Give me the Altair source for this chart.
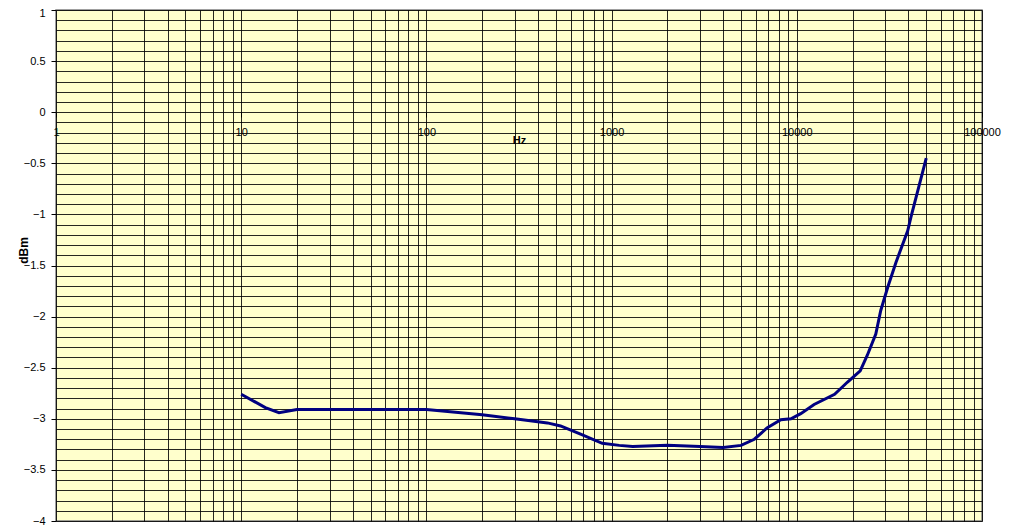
import altair as alt
import pandas as pd

freq_hz = [10, 13.5, 16, 20, 30, 50, 100, 200, 300, 450, 530, 680, 890, 1100,
           1300, 2000, 3000, 4000, 5000, 5900, 6900, 8200, 9300, 10500, 12400,
           16000, 18800, 22000, 24000, 26700, 28400, 31000, 34300, 39700,
           41300, 50000]
level_dbm = [-2.76, -2.89, -2.94, -2.91, -2.91, -2.91, -2.91, -2.96, -3.00,
             -3.04, -3.07, -3.15, -3.24, -3.26, -3.27, -3.26, -3.27, -3.28,
             -3.26, -3.20, -3.09, -3.01, -3.00, -2.95, -2.86, -2.76, -2.64,
             -2.53, -2.38, -2.17, -1.94, -1.71, -1.47, -1.16, -1.03, -0.45]

# Axis ticks / gridlines
x_decades = [1, 10, 100, 1000, 10000, 100000]
x_grid = [m * 10 ** e for e in range(5) for m in range(1, 10)] + [100000]
y_grid = [round(-4 + 0.1 * i, 1) for i in range(51)]

df = pd.DataFrame({"Hz": freq_hz, "dBm": level_dbm})

FONT = "Liberation Sans"
xscale = alt.Scale(type="log", domain=[1, 100000], nice=False)
yscale = alt.Scale(domain=[-4, 1], nice=False, zero=False)
major_test = "abs(datum.value * 2 - round(datum.value * 2)) < 0.001"

grid_layer = alt.Chart(df).mark_line(opacity=0).encode(
    x=alt.X("Hz:Q", scale=xscale,
            axis=alt.Axis(orient="bottom", values=x_grid, grid=True,
                          gridColor="black", gridWidth=1, gridOpacity=0.85,
                          labels=False, ticks=False, domain=False, title=None)),
    y=alt.Y("dBm:Q", scale=yscale,
            axis=alt.Axis(orient="left", values=y_grid, grid=True,
                          gridColor="black", gridWidth=1, gridOpacity=0.85,
                          labelExpr=f"{major_test} ? format(datum.value, '~g') : ''",
                          labelOffset={"condition": {"test": "datum.value > 0.95", "value": 3}, "value": 0},
                          tickOpacity={"condition": {"test": major_test, "value": 1}, "value": 0},
                          tickSize=5, tickColor="black", labelPadding=6,
                          labelFont=FONT, labelFontSize=11, labelColor="black",
                          domain=False, title="dBm", titleFont=FONT,
                          titleFontSize=12, titleFontWeight="bold",
                          titleColor="black", titleAngle=-90, titleX=-33,
                          titleY=240, titleAlign="center",
                          titleBaseline="middle")),
)

line_layer = alt.Chart(df).mark_line(color="#000080", strokeWidth=3).encode(
    x=alt.X("Hz:Q", scale=xscale,
            axis=alt.Axis(orient="bottom", values=x_decades, format="d",
                          grid=False, domain=False, tickSize=5,
                          tickColor="black", offset=-409, labelFlush=False,
                          labelOverlap=False, labelPadding=9, labelFont=FONT,
                          labelFontSize=11, labelColor="black", title="Hz",
                          titleFont=FONT, titleFontSize=11,
                          titleFontWeight="bold", titleColor="black",
                          titleX=463, titleY=31, titleAlign="center",
                          titleBaseline="alphabetic")),
    y=alt.Y("dBm:Q", scale=yscale, axis=None),
)

chart = alt.layer(grid_layer, line_layer).resolve_axis(
    x="independent", y="independent"
).properties(
    width=926, height=511,
    autosize=alt.AutoSizeParams(type="none"),
    padding={"left": 48, "top": 2, "right": 32, "bottom": 8},
    background="white",
).configure_view(fill="#FFFFCC", stroke="#808080", strokeWidth=1.5)

chart.save("out.html", embed_options={"renderer": "svg", "actions": False})
